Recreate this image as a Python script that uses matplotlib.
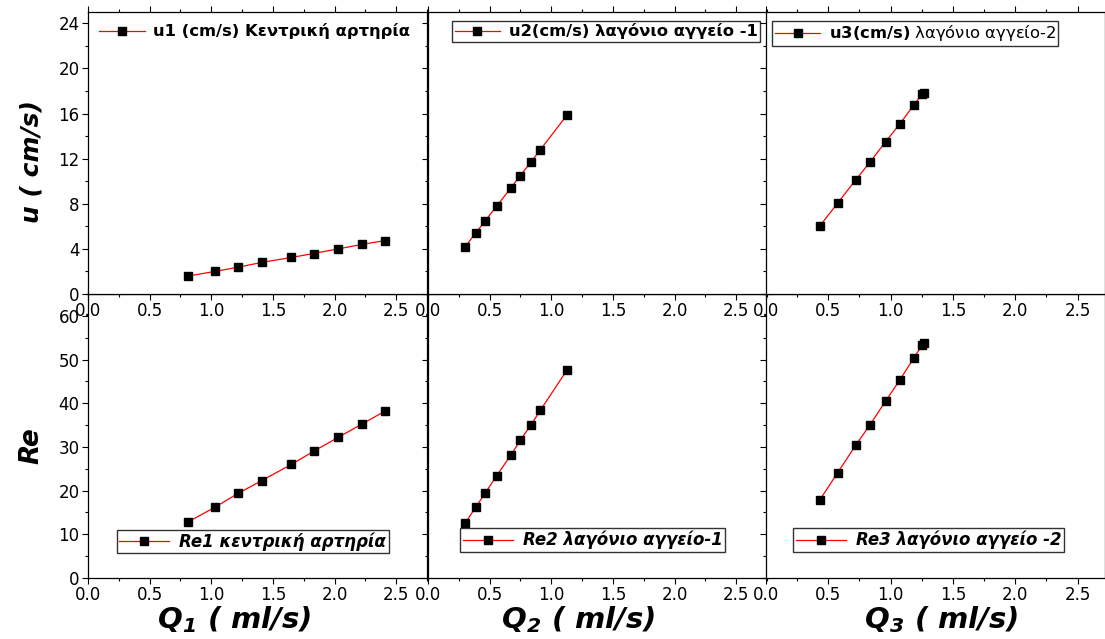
"""
Flow velocity u and Reynolds number Re vs flow rate Q for three vessels
(central artery + two iliac branches), 2x3 Origin-style grid.
"""
import numpy as np
import matplotlib
matplotlib.use('Agg')
import matplotlib.pyplot as plt
from matplotlib.ticker import MultipleLocator

plt.rcParams['font.family'] = ['DejaVu Sans']
plt.rcParams['mathtext.fontset'] = 'custom'
plt.rcParams['mathtext.rm'] = 'DejaVu Sans'
plt.rcParams['mathtext.bf'] = 'DejaVu Sans:bold'
plt.rcParams['mathtext.it'] = 'DejaVu Sans:italic'
plt.rcParams['mathtext.bfit'] = 'DejaVu Sans:italic:bold'

# ── Data ─────────────────────────────────────────────────────────────────────
q1 = [0.81, 1.03, 1.22, 1.41, 1.65, 1.83, 2.03, 2.22, 2.41]
u1 = [1.59, 2.00, 2.38, 2.80, 3.24, 3.59, 4.00, 4.39, 4.74]
re1 = [12.8, 16.2, 19.4, 22.3, 26.0, 29.0, 32.2, 35.2, 38.2]

q2 = [0.30, 0.387, 0.463, 0.557, 0.671, 0.749, 0.836, 0.912, 1.125]
u2 = [4.17, 5.41, 6.47, 7.79, 9.38, 10.50, 11.71, 12.80, 15.83]
re2 = [12.5, 16.2, 19.4, 23.4, 28.1, 31.5, 35.1, 38.4, 47.5]

q3 = [0.43, 0.575, 0.72, 0.833, 0.96, 1.073, 1.185, 1.252, 1.266]
u3 = [6.00, 8.06, 10.12, 11.68, 13.50, 15.07, 16.74, 17.71, 17.86]
re3 = [17.8, 24.1, 30.4, 35.0, 40.5, 45.3, 50.3, 53.3, 53.8]

top_labels = ['u1 (cm/s) Κεντρική αρτηρία',
              'u2(cm/s) λαγόνιο αγγείο -1',
              r'$\mathbf{u3(cm/s)}$ λαγόνιο αγγείο-2']
bot_labels = ['Re1 κεντρική αρτηρία',
              'Re2 λαγόνιο αγγείο-1',
              'Re3 λαγόνιο αγγείο -2']
x_labels = [r'$\mathbfit{Q_1}$ ( ml/s)',
            r'$\mathbfit{Q_2}$ ( ml/s)',
            r'$\mathbfit{Q_3}$ ( ml/s)']
xtick_vals = [0.0, 0.5, 1.0, 1.5, 2.0, 2.5]
u_ticks = [0, 4, 8, 12, 16, 20, 24]
re_ticks = [0, 10, 20, 30, 40, 50, 60]

Q = [q1, q2, q3]
U = [u1, u2, u3]
RE = [re1, re2, re3]

# ── Figure ───────────────────────────────────────────────────────────────────
W, H = 1105, 639
fig = plt.figure(figsize=(W / 100, H / 100), dpi=100)

lefts = [88, 428, 766]
width = 339
top_y0, top_y1 = 12, 294
bot_y0, bot_y1 = 294, 578
xmax = [2.75, 2.75, 2.72]

top_leg = [(0.025, 0.968, False, 'bold'), (0.071, 0.968, True, 'bold'),
           (0.018, 0.968, True, 'normal')]
bot_leg = [(0.085, 0.088), (0.095, 0.092), (0.080, 0.092)]
xlabel_cx = [234, 578, 941]


def style_axis(ax, ymajor, yminor):
    ax.xaxis.set_major_locator(MultipleLocator(0.5))
    ax.xaxis.set_minor_locator(MultipleLocator(0.25))
    ax.yaxis.set_major_locator(MultipleLocator(ymajor))
    ax.yaxis.set_minor_locator(MultipleLocator(yminor))
    ax.tick_params(which='both', direction='out', top=True, right=True,
                   labelsize=12, width=0.8, pad=2)
    ax.tick_params(which='major', length=4)
    ax.tick_params(which='minor', length=2.5)
    for s in ax.spines.values():
        s.set_linewidth(0.9)


# bottom row first so the top row's tick labels are drawn over it
for i in range(3):
    ax_b = fig.add_axes([lefts[i] / W, 1 - bot_y1 / H, width / W,
                         (bot_y1 - bot_y0) / H])
    ax_b.plot(Q[i], RE[i], '-', color='red', lw=0.9, marker='s', ms=5.5,
              mfc='black', mec='black', label=bot_labels[i])
    ax_b.set_xlim(0, xmax[i])
    ax_b.set_ylim(0, 65)
    style_axis(ax_b, 10, 5)
    ax_b.set_xticks(xtick_vals)
    ax_b.set_xticklabels([f'{v:.1f}' for v in xtick_vals])
    bx, by = bot_leg[i]
    leg = ax_b.legend(loc='lower left', bbox_to_anchor=(bx, by), borderaxespad=0,
                      frameon=True, fancybox=False, edgecolor='black',
                      handlelength=3.0, borderpad=0.15, handletextpad=0.6,
                      prop={'size': 12, 'weight': 'bold', 'style': 'italic'})
    leg.get_frame().set_linewidth(1.0)
    if i == 0:
        ax_b.set_yticks(re_ticks)
        ax_b.set_yticklabels([str(v) for v in re_ticks])
    else:
        ax_b.set_yticklabels([])
    fig.text(xlabel_cx[i] / W, 1 - 620 / H, x_labels[i], fontsize=21,
             fontweight='bold', style='italic', ha='center', va='center')

for i in range(3):
    ax_t = fig.add_axes([lefts[i] / W, 1 - top_y1 / H, width / W,
                         (top_y1 - top_y0) / H])
    ax_t.plot(Q[i], U[i], '-', color='red', lw=0.9, marker='s', ms=5.5,
              mfc='black', mec='black', label=top_labels[i])
    ax_t.set_xlim(0, xmax[i])
    ax_t.set_ylim(0, 25)
    style_axis(ax_t, 4, 2)
    ax_t.set_xticks(xtick_vals)
    ax_t.set_xticklabels([f'{v:.1f}' for v in xtick_vals])
    fx, fy, frame, wt = top_leg[i]
    leg = ax_t.legend(loc='upper left', bbox_to_anchor=(fx, fy), borderaxespad=0,
                      frameon=frame, fancybox=False, edgecolor='black',
                      handlelength=2.8, borderpad=0.15, handletextpad=0.5,
                      prop={'size': 11.8, 'weight': wt})
    leg.get_frame().set_linewidth(1.0)
    if i == 0:
        ax_t.set_yticks(u_ticks)
        ax_t.set_yticklabels([str(v) for v in u_ticks])
    else:
        ax_t.set_yticklabels([])

fig.text(31 / W, 1 - 162 / H, 'u ( cm/s)', fontsize=18, fontweight='bold',
         style='italic', rotation=90, ha='center', va='center')
fig.text(31 / W, 1 - 446 / H, 'Re', fontsize=19, fontweight='bold',
         style='italic', rotation=90, ha='center', va='center')

fig.savefig('out.png', dpi=100)
plt.close(fig)
